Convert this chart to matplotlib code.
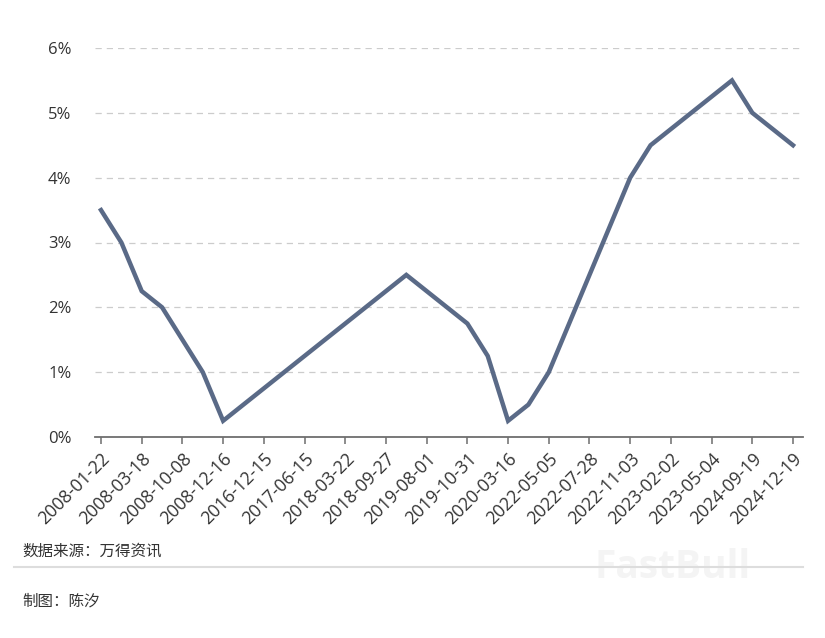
import matplotlib
matplotlib.use("Agg")
import matplotlib.pyplot as plt
from matplotlib.lines import Line2D

dates = ["2008-01-22", "2008-01-31", "2008-03-18", "2008-04-30", "2008-10-08", "2008-10-29",
         "2008-12-16", "2015-12-17", "2016-12-15", "2017-03-16", "2017-06-15", "2017-12-14",
         "2018-03-22", "2018-06-14", "2018-09-27", "2018-12-20", "2019-08-01", "2019-09-19",
         "2019-10-31", "2020-03-04", "2020-03-16", "2022-03-17", "2022-05-05", "2022-06-16",
         "2022-07-28", "2022-09-22", "2022-11-03", "2022-12-15", "2023-02-02", "2023-03-23",
         "2023-05-04", "2023-07-27", "2024-09-19", "2024-11-08", "2024-12-19"]
rates = [3.5, 3.0, 2.25, 2.0, 1.5, 1.0, 0.25, 0.5, 0.75, 1.0, 1.25, 1.5, 1.75, 2.0, 2.25, 2.5,
         2.25, 2.0, 1.75, 1.25, 0.25, 0.5, 1.0, 1.75, 2.5, 3.25, 4.0, 4.5, 4.75, 5.0, 5.25, 5.5,
         5.0, 4.75, 4.5]
yticks = [0, 1, 2, 3, 4, 5, 6]
source_text = "数据来源：万得资讯"
author_text = "制图：陈汐"

plt.rcParams['font.family'] = ['Open Sans', 'Noto Sans CJK SC', 'DejaVu Sans']

fig = plt.figure(figsize=(8.25, 6.38), dpi=100)
ax = fig.add_axes([95/825, 1-437/638, (803-95)/825, (437-48)/638])

x = list(range(len(dates)))
ax.plot(x, rates, color="#5a6a87", lw=3.2, solid_joinstyle="miter", zorder=3)

ax.set_xlim(-0.295, len(dates) - 1 + 0.49)
ax.set_ylim(0, 6)
ax.set_yticks(yticks)
ax.set_yticklabels([f"{v}%" for v in yticks])
ax.yaxis.grid(True, color="#cccccc", linestyle=(0, (5, 4)), lw=0.9)
ax.set_axisbelow(True)

tick_idx = x[::2]
ax.set_xticks(tick_idx)
ax.set_xticklabels([dates[i] for i in tick_idx], rotation=45, ha="right",
                   rotation_mode="anchor")

for s in ["top", "right", "left"]:
    ax.spines[s].set_visible(False)
ax.spines["bottom"].set_color("#6e6e6e")
ax.spines["bottom"].set_linewidth(1.3)
ax.tick_params(axis="y", length=0, pad=17, labelsize=12, labelcolor="#333333")
ax.tick_params(axis="x", length=5, width=1.1, color="#6e6e6e", pad=4,
               labelsize=12.8, labelcolor="#333333")

fig.text(22/825, 1-551/638, source_text, fontsize=11.2, color="#333333",
         family=['Noto Sans CJK SC', 'DejaVu Sans'], va="center", ha="left")
fig.add_artist(Line2D([14/825, 803/825], [1-567/638, 1-567/638], color="#dddddd", lw=1.5))
fig.text(22/825, 1-601/638, author_text, fontsize=11.2, color="#333333",
         family=['Noto Sans CJK SC', 'DejaVu Sans'], va="center", ha="left")
fig.text(673/825, 1-568/638, "FastBull", fontsize=28, fontweight="bold", color="#f4f4f4",
         va="center", ha="center", zorder=0)

fig.savefig("out.png", dpi=100, facecolor="white")
